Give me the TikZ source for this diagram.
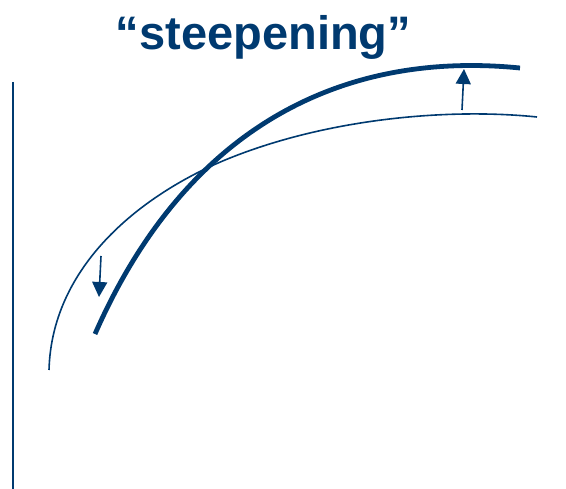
\documentclass[tikz,border=0pt]{standalone}
\usepackage{fontspec}
\setmainfont{Liberation Sans}
\usetikzlibrary{arrows.meta}
\definecolor{navy}{HTML}{003A70}

\begin{document}
\begin{tikzpicture}[
    x=1pt, y=-1pt,
    >={Triangle[length=15pt, width=15pt]},
    oldcurve/.style={draw=navy, line width=1.6pt},
    newcurve/.style={draw=navy, line width=4.8pt},
    shiftarrow/.style={->, draw=navy, fill=navy, line width=1.6pt},
]
    \useasboundingbox (0,0) rectangle (566,489);

    % Title
    \node[font=\fontsize{47}{50}\selectfont\bfseries, text=navy, anchor=base] (title) at (263.5,50) {“steepening”};

    % Axis
    \coordinate (axtop) at (13,82);
    \coordinate (axbot) at (13,489);
    \draw[navy, line width=2pt] (axtop) -- (axbot);

    % Original curve
    \coordinate (oldstart) at (49,370);
    \coordinate (oldmid) at (230,158);
    \coordinate (oldend) at (537,117);
    \draw[oldcurve] (oldstart) .. controls (52,260) and (150,190) .. (oldmid)
        .. controls (330,118) and (450,108) .. (oldend);

    % Steepened curve
    \coordinate (newstart) at (95,334);
    \coordinate (newend) at (520,68);
    \draw[newcurve] (newstart) .. controls (185,129) and (340,50) .. (newend);

    % Shift arrows
    \coordinate (dntop) at (101,256);
    \coordinate (dnbot) at (99,297);
    \draw[shiftarrow] (dntop) -- (dnbot);
    \coordinate (upbot) at (462,110);
    \coordinate (uptop) at (464,69);
    \draw[shiftarrow] (upbot) -- (uptop);
\end{tikzpicture}
\end{document}
